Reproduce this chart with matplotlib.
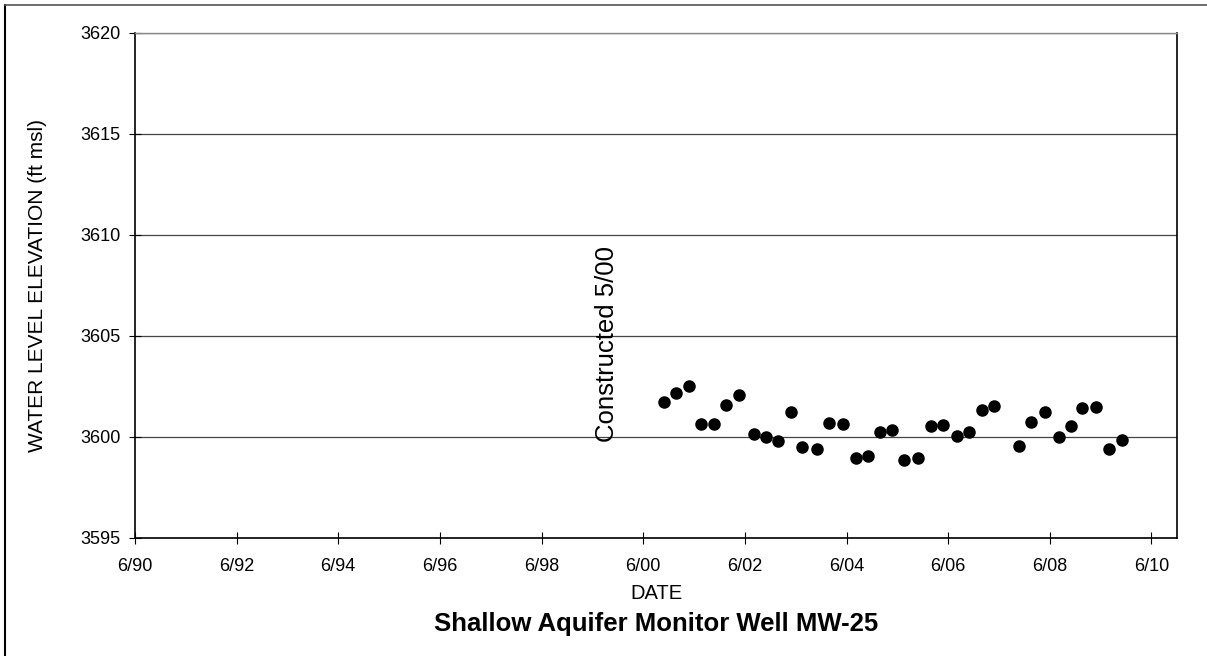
import numpy as np
import pandas as pd
import matplotlib
matplotlib.use("Agg")
import matplotlib.pyplot as plt
import matplotlib.dates as mdates
from matplotlib.lines import Line2D

plt.rcParams['font.family'] = ['Liberation Sans', 'DejaVu Sans']

# measured water levels, MW-25
dates = ['2000-10-27', '2001-01-22', '2001-04-23', '2001-07-19', '2001-10-19',
         '2002-01-19', '2002-04-20', '2002-08-04', '2002-10-31', '2003-01-26',
         '2003-05-01', '2003-07-20', '2003-11-03', '2004-01-30', '2004-05-08',
         '2004-08-07', '2004-10-30', '2005-01-30', '2005-04-27', '2005-07-16',
         '2005-10-30', '2006-01-26', '2006-04-27', '2006-08-04', '2006-10-27',
         '2007-01-30', '2007-04-27', '2007-10-27', '2008-01-19', '2008-04-27',
         '2008-08-07', '2008-11-03', '2009-01-19', '2009-05-01', '2009-07-31',
         '2009-10-31']
levels = [3601.73, 3602.16, 3602.52, 3600.66, 3600.64,
          3601.60, 3602.08, 3600.16, 3599.98, 3599.80,
          3601.22, 3599.50, 3599.42, 3600.69, 3600.63,
          3598.96, 3599.04, 3600.25, 3600.33, 3598.86,
          3598.96, 3600.54, 3600.61, 3600.07, 3600.25,
          3601.35, 3601.55, 3599.57, 3600.74, 3601.22,
          3599.98, 3600.53, 3601.44, 3601.50, 3599.42,
          3599.84]
tick_years = list(range(1990, 2011, 2))
y_ticks = [3595, 3600, 3605, 3610, 3615, 3620]

t = pd.to_datetime(dates)

fig = plt.figure(figsize=(12.07, 6.56), dpi=100)
ax = fig.add_axes([0.1118, 0.1799, 0.8637, 0.7698])

ax.plot(t, levels, 'o', color='black', ms=8, zorder=3)

ax.set_xlim(pd.Timestamp('1990-06-01'), pd.Timestamp('2010-12-05'))
ax.set_ylim(3595, 3620)
ax.set_yticks(y_ticks)
ax.set_xticks([pd.Timestamp('%d-06-01' % y) for y in tick_years])
ax.xaxis.set_major_formatter(mdates.DateFormatter('%-m/%y'))
ax.yaxis.grid(True, color='#444444', lw=0.9)
ax.set_axisbelow(True)

ax.tick_params(axis='both', direction='inout', length=9, width=0.8,
               labelsize=13, colors='black', pad=6)
ax.tick_params(axis='x', pad=10)
for s in ['left', 'bottom', 'right']:
    ax.spines[s].set_color('black')
    ax.spines[s].set_linewidth(1.2)
ax.spines['top'].set_color('#888888')
ax.spines['top'].set_linewidth(1.0)

ax.set_ylabel('WATER LEVEL ELEVATION (ft msl)', fontsize=15, va='center')
ax.yaxis.set_label_coords(-0.093, 0.5)
ax.text(0.5, -0.109, 'DATE', transform=ax.transAxes, ha='center',
        va='center', fontsize=14.5)
ax.text(0.5, -0.170, 'Shallow Aquifer Monitor Well MW-25',
        transform=ax.transAxes, ha='center', va='center', fontsize=18.5,
        fontweight='bold')

ax.text(pd.Timestamp('1999-09-15'), 3599.75, 'Constructed 5/00', rotation=90,
        ha='center', va='bottom', fontsize=18.5)

# frame around chart (left and top edges)
fig.add_artist(Line2D([5 / 1207, 5 / 1207], [0, 1 - 5 / 656],
                      transform=fig.transFigure, color='black', lw=1.5))
fig.add_artist(Line2D([5 / 1207, 1], [1 - 5 / 656, 1 - 5 / 656],
                      transform=fig.transFigure, color='#555555', lw=1.2))

fig.savefig('out.png', dpi=100)
